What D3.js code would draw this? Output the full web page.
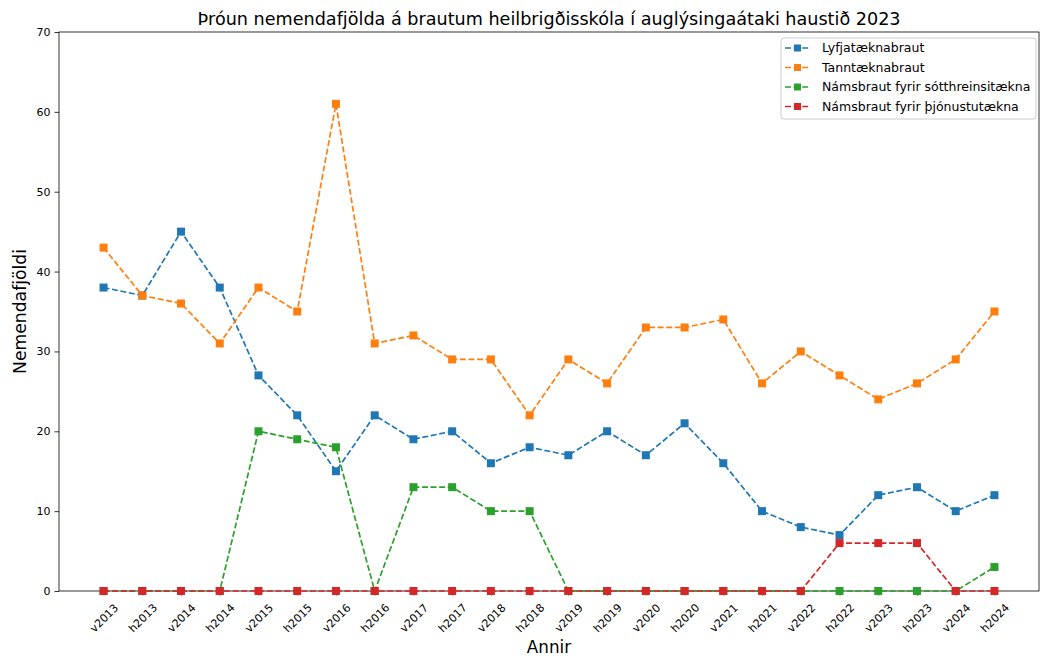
<!DOCTYPE html>
<html>
<head>
<meta charset="utf-8">
<script src="https://cdn.jsdelivr.net/npm/d3@7"></script>
<style>
  body { margin: 0; background: #fff; }
  text { font-family: "DejaVu Sans", sans-serif; }
</style>
</head>
<body>
<svg id="chart" width="1040" height="656"></svg>
<script>
const terms = ["v2013", "h2013", "v2014", "h2014", "v2015", "h2015", "v2016", "h2016",
    "v2017", "h2017", "v2018", "h2018", "v2019", "h2019", "v2020", "h2020",
    "v2021", "h2021", "v2022", "h2022", "v2023", "h2023", "v2024", "h2024"];
const lyfja = [38, 37, 45, 38, 27, 22, 15, 22, 19, 20, 16, 18, 17, 20, 17, 21, 16, 10, 8, 7, 12, 13, 10, 12];
const tann = [43, 37, 36, 31, 38, 35, 61, 31, 32, 29, 29, 22, 29, 26, 33, 33, 34, 26, 30, 27, 24, 26, 29, 35];
const sotthreinsi = [0, 0, 0, 0, 20, 19, 18, 0, 13, 13, 10, 10, 0, 0, 0, 0, 0, 0, 0, 0, 0, 0, 0, 3];
const thjonustu = [0, 0, 0, 0, 0, 0, 0, 0, 0, 0, 0, 0, 0, 0, 0, 0, 0, 0, 0, 6, 6, 6, 0, 0];
const seriesNames = ["Lyfjatæknabraut", "Tanntæknabraut", "Námsbraut fyrir sótthreinsitækna", "Námsbraut fyrir þjónustutækna"];
const yTicks = [0, 10, 20, 30, 40, 50, 60, 70];

const series = [lyfja, tann, sotthreinsi, thjonustu];
const colors = ["#1f77b4", "#ff7f0e", "#2ca02c", "#d62728"];

const svg = d3.select("#chart");
const m = { left: 59, right: 1039, top: 32, bottom: 591 };

// matplotlib style 5% margin on x
const n = terms.length;
const pad = (n - 1) * 0.05;
const x = d3.scaleLinear().domain([-pad, n - 1 + pad]).range([m.left, m.right]);
const y = d3.scaleLinear().domain([0, 70]).range([m.bottom, m.top]);

// axes
const xAxis = d3.axisBottom(x)
    .tickValues(d3.range(n))
    .tickFormat(i => terms[i])
    .tickSize(4.5);
const gx = svg.append("g").attr("transform", `translate(0,${m.bottom})`).call(xAxis);
gx.select(".domain").remove();
gx.selectAll("line").attr("stroke", "#000").attr("stroke-width", 0.8);
gx.selectAll("text")
    .attr("font-size", 11)
    .attr("font-family", "DejaVu Sans")
    .attr("fill", "#000")
    .attr("text-anchor", "middle")
    .attr("y", 0)
    .attr("dy", "0.35em")
    .attr("transform", "translate(0,27) rotate(-45)");

const yAxis = d3.axisLeft(y).tickValues(yTicks).tickSize(4.5).tickPadding(4);
const gy = svg.append("g").attr("transform", `translate(${m.left},0)`).call(yAxis);
gy.select(".domain").remove();
gy.selectAll("line").attr("stroke", "#000").attr("stroke-width", 0.8);
gy.selectAll("text").attr("font-size", 11).attr("font-family", "DejaVu Sans").attr("fill", "#000");

// frame
svg.append("rect")
    .attr("x", m.left).attr("y", m.top)
    .attr("width", m.right - m.left).attr("height", m.bottom - m.top)
    .attr("fill", "none").attr("stroke", "#000").attr("stroke-width", 0.8);

// lines and markers
const line = d3.line().x((d, i) => x(i)).y(d => y(d));
const ms = 8;
series.forEach((vals, k) => {
    const g = svg.append("g");
    g.append("path")
        .attr("d", line(vals))
        .attr("fill", "none")
        .attr("stroke", colors[k])
        .attr("stroke-width", 1.7)
        .attr("stroke-dasharray", "6,2.6");
    g.selectAll("rect")
        .data(vals)
        .enter()
        .append("rect")
        .attr("x", (d, i) => x(i) - ms / 2)
        .attr("y", d => y(d) - ms / 2)
        .attr("width", ms)
        .attr("height", ms)
        .attr("fill", colors[k]);
});

// title and labels
svg.append("text")
    .attr("x", (m.left + m.right) / 2).attr("y", 25)
    .attr("text-anchor", "middle")
    .attr("font-size", 17.6)
    .text("Þróun nemendafjölda á brautum heilbrigðisskóla í auglýsingaátaki haustið 2023");
svg.append("text")
    .attr("x", (m.left + m.right) / 2).attr("y", 653)
    .attr("text-anchor", "middle")
    .attr("font-size", 16.8)
    .text("Annir");
svg.append("text")
    .attr("transform", `translate(26,${(m.top + m.bottom) / 2}) rotate(-90)`)
    .attr("text-anchor", "middle")
    .attr("font-size", 17.2)
    .text("Nemendafjöldi");

// legend
const lg = svg.append("g").attr("transform", "translate(781,38)");
lg.append("rect")
    .attr("width", 255).attr("height", 81)
    .attr("rx", 3)
    .attr("fill", "#fff").attr("fill-opacity", 0.8)
    .attr("stroke", "#ccc").attr("stroke-width", 1);
seriesNames.forEach((name, k) => {
    const cy = 10 + k * 19.5;
    lg.append("line")
        .attr("x1", 4).attr("x2", 29).attr("y1", cy).attr("y2", cy)
        .attr("stroke", colors[k]).attr("stroke-width", 1.7)
        .attr("stroke-dasharray", "6,2.6");
    lg.append("rect")
        .attr("x", 16.5 - 3.5).attr("y", cy - 3.5)
        .attr("width", 7).attr("height", 7)
        .attr("fill", colors[k]);
    lg.append("text")
        .attr("x", 41).attr("y", cy).attr("dy", "0.35em")
        .attr("font-size", 12.5)
        .text(name);
});
</script>
</body>
</html>
